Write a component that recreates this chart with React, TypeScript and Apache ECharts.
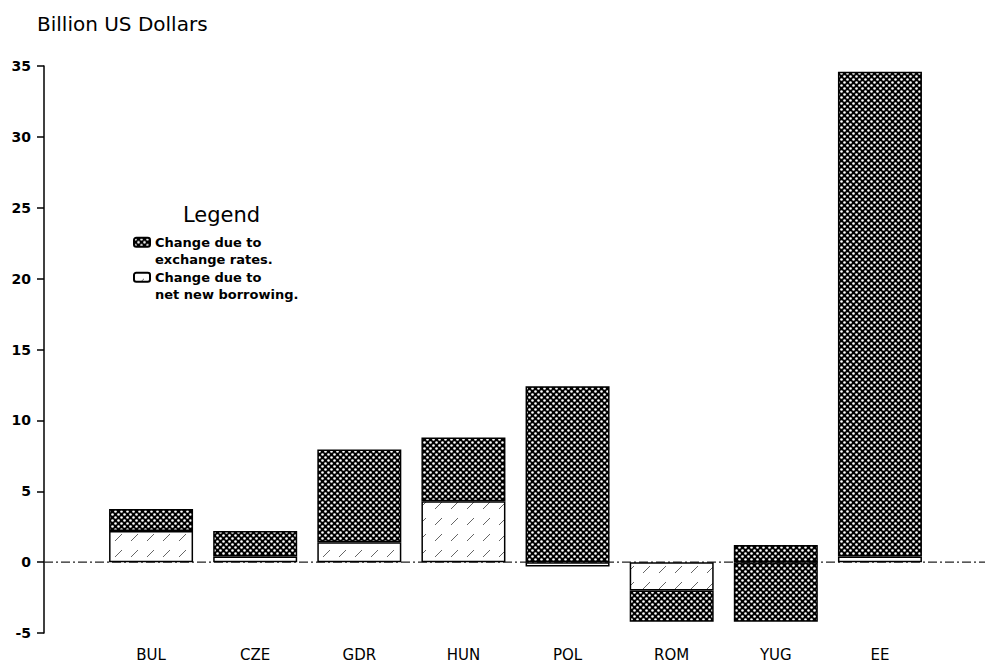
import React, { useEffect, useRef } from "react";
import * as echarts from "echarts";

const categories = ["BUL", "CZE", "GDR", "HUN", "POL", "ROM", "YUG", "EE"];
const netBorrowing: (number | null)[] = [2.2, 0.4, 1.4, 4.3, -0.3, -2.0, null, 0.4];
const exchangeRates: (number | null)[] = [1.55, 1.8, 6.55, 4.5, 12.4, -2.2, 1.2, 34.2];
const exchangeRatesBelow: (number | null)[] = [null, null, null, null, null, null, -4.2, null];
const zeroLine = [[0, 0], [1, 0]];
const yMin = -5;
const yMax = 35;
const yInterval = 5;

const NAME_EX = "Change due to\nexchange rates.";
const NAME_NB = "Change due to\nnet new borrowing.";
const FONT = "DejaVu Sans";

function makeCross(): HTMLCanvasElement {
  const c = document.createElement("canvas");
  c.width = 6;
  c.height = 6;
  const g = c.getContext("2d")!;
  g.fillStyle = "#000";
  g.fillRect(0, 0, 6, 6);
  g.fillStyle = "#fff";
  g.beginPath();
  g.arc(1.5, 1.5, 1.3, 0, Math.PI * 2);
  g.fill();
  g.beginPath();
  g.arc(4.5, 4.5, 1.3, 0, Math.PI * 2);
  g.fill();
  return c;
}

function makeHatch(): HTMLCanvasElement {
  const c = document.createElement("canvas");
  c.width = 16;
  c.height = 16;
  const g = c.getContext("2d")!;
  g.fillStyle = "#fff";
  g.fillRect(0, 0, 16, 16);
  g.strokeStyle = "#666";
  g.lineWidth = 1;
  g.beginPath();
  g.moveTo(3, 13);
  g.lineTo(10, 6);
  g.stroke();
  return c;
}

export default function App() {
  const ref = useRef<HTMLDivElement>(null);
  useEffect(() => {
    if (!ref.current) return;
    const chart = echarts.init(ref.current, undefined, { renderer: "svg" });
    const cross = { image: makeCross(), repeat: "repeat" };
    const hatch = { image: makeHatch(), repeat: "repeat" };
    const barStyle = (fill: any) => ({ color: fill, borderColor: "#000", borderWidth: 1.5 });
    chart.setOption({
      animation: false,
      backgroundColor: "#fff",
      title: [
        {
          text: "Billion US Dollars",
          left: 37,
          top: 14,
          padding: 0,
          textStyle: { fontFamily: FONT, fontSize: 20, fontWeight: "normal", color: "#000" },
        },
        {
          text: "Legend",
          left: 183,
          top: 204,
          padding: 0,
          textStyle: { fontFamily: FONT, fontSize: 21, fontWeight: "normal", color: "#000" },
        },
      ],
      legend: {
        data: [NAME_EX, NAME_NB],
        orient: "vertical",
        left: 133,
        top: 216,
        padding: 0,
        itemGap: -17.5,
        itemWidth: 16,
        itemHeight: 9,
        selectedMode: false,
        formatter: (name: string) => " \n" + name,
        textStyle: {
          fontFamily: FONT,
          fontSize: 13,
          fontWeight: "bold",
          color: "#000",
          lineHeight: 17.5,
        },
      },
      grid: [
        { left: 99, right: 53, top: 66, bottom: 33 },
        { left: 44, right: 0, top: 66, bottom: 33 },
      ],
      xAxis: [
        {
          type: "category",
          data: categories,
          gridIndex: 0,
          axisLine: { show: false },
          axisTick: { show: false },
          axisLabel: { fontFamily: FONT, fontSize: 15, color: "#000", margin: 14 },
        },
        { type: "value", gridIndex: 1, min: 0, max: 1, show: false },
      ],
      yAxis: [
        {
          type: "value",
          gridIndex: 0,
          min: yMin,
          max: yMax,
          interval: yInterval,
          offset: 55,
          splitLine: { show: false },
          axisLine: { show: true, lineStyle: { color: "#000", width: 1.5 } },
          axisTick: { show: true, length: 7, lineStyle: { color: "#000", width: 1.5 } },
          axisLabel: { fontFamily: FONT, fontSize: 14, fontWeight: "bold", color: "#000", margin: 13 },
        },
        { type: "value", gridIndex: 1, min: yMin, max: yMax, show: false },
      ],
      series: [
        {
          type: "line",
          xAxisIndex: 1,
          yAxisIndex: 1,
          data: zeroLine,
          symbol: "none",
          silent: true,
          z: 1,
          lineStyle: { color: "#222", width: 1.2, type: [9, 3, 2, 3] },
        },
        {
          name: NAME_NB,
          type: "bar",
          stack: "total",
          data: netBorrowing,
          barWidth: 84,
          z: 3,
          itemStyle: barStyle(hatch),
        },
        {
          name: NAME_EX,
          type: "bar",
          stack: "total",
          data: exchangeRates,
          barWidth: 84,
          z: 3,
          itemStyle: barStyle(cross),
        },
        {
          name: NAME_EX,
          type: "bar",
          stack: "total",
          data: exchangeRatesBelow,
          barWidth: 84,
          z: 3,
          itemStyle: barStyle(cross),
        },
      ],
    });
    return () => chart.dispose();
  }, []);
  return (
    <div
      ref={ref}
      style={{ position: "fixed", left: 0, top: 0, width: 985, height: 666 }}
    />
  );
}
